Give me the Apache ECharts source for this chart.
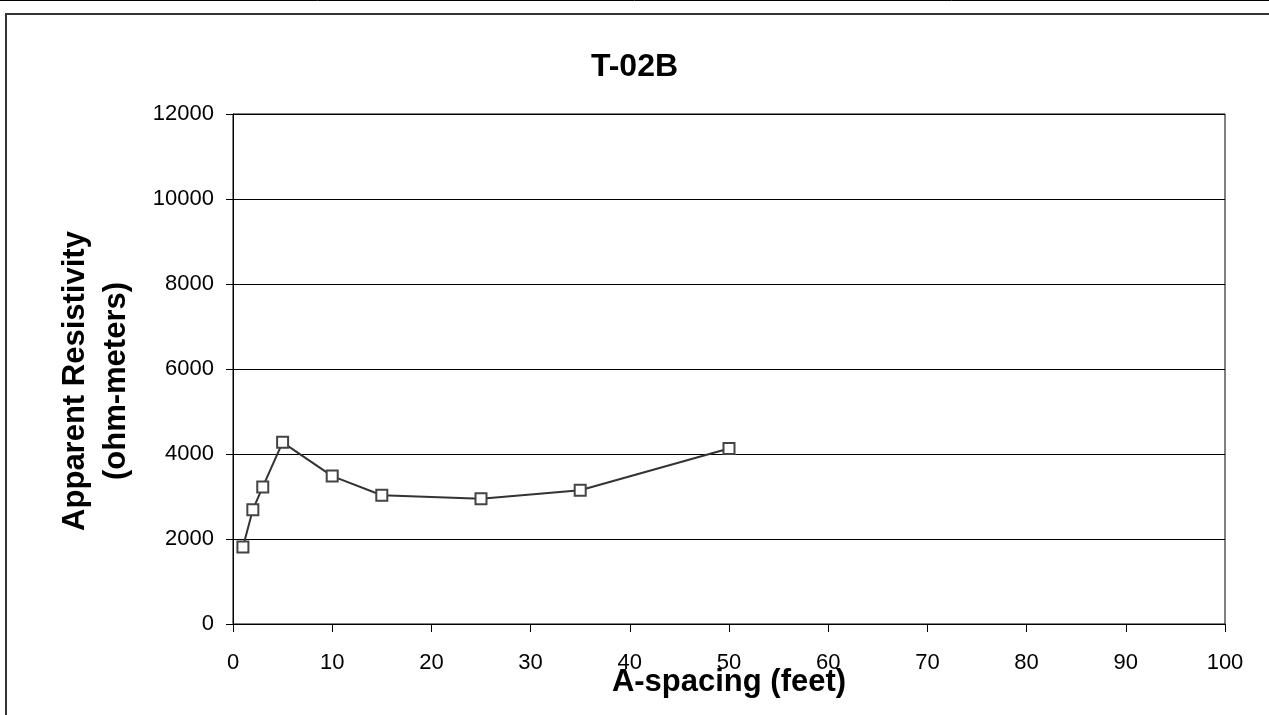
<!DOCTYPE html>
<html>
<head>
<meta charset="utf-8">
<script src="https://cdn.jsdelivr.net/npm/echarts@6/dist/echarts.min.js"></script>
<style>
html,body{margin:0;padding:0;background:#fff;}
#chart{width:1269px;height:715px;}
</style>
</head>
<body>
<div id="chart"></div>
<script>
const titleText = "T-02B";
const xAxisName = "A-spacing (feet)";
const yAxisName = "Apparent Resistivity\n(ohm-meters)";
const aSpacing = [1, 2, 3, 5, 10, 15, 25, 35, 50];
const resistivity = [1810, 2690, 3225, 4275, 3480, 3030, 2945, 3145, 4130];

const chart = echarts.init(document.getElementById('chart'));
const FONT = '"Liberation Sans", Arial, sans-serif';
chart.setOption({
  animation: false,
  backgroundColor: '#fff',
  title: {
    text: titleText,
    left: 'center',
    top: 46,
    textStyle: { fontFamily: FONT, fontWeight: 'bold', fontSize: 32, color: '#000' }
  },
  grid: {
    left: 233, right: 44, top: 114, bottom: 91,
    show: true, borderColor: '#000', borderWidth: 1, backgroundColor: 'transparent'
  },
  xAxis: {
    type: 'value', min: 0, max: 100, interval: 10,
    axisLine: { lineStyle: { color: '#000', width: 1 } },
    axisTick: { show: true, inside: false, length: 8, lineStyle: { color: '#000' } },
    axisLabel: { fontFamily: FONT, fontSize: 22, color: '#000', margin: 28 },
    splitLine: { show: false }
  },
  yAxis: {
    type: 'value', min: 0, max: 12000, interval: 2000,
    axisLine: { show: true, lineStyle: { color: '#000', width: 1 } },
    axisTick: { show: true, inside: false, length: 7, lineStyle: { color: '#000' } },
    axisLabel: { fontFamily: FONT, fontSize: 22, color: '#000', margin: 19, formatter: v => String(v) },
    splitLine: { show: true, lineStyle: { color: '#000', width: 1 } }
  },
  graphic: [
    { type: 'line', shape: { x1: 0, y1: 0.5, x2: 1269, y2: 0.5 }, style: { stroke: '#000', lineWidth: 1 } },
    { type: 'rect', shape: { x: 6, y: 14, width: 1400, height: 900 }, style: { fill: 'none', stroke: '#333', lineWidth: 2 } },
    { type: 'text', x: 96, y: 381, rotation: Math.PI / 2,
      style: { text: yAxisName, align: 'center', verticalAlign: 'middle', lineHeight: 41,
               font: 'bold 31px "Liberation Sans", Arial, sans-serif', fill: '#000' } },
    { type: 'text', x: 729, y: 682, z: 10,
      style: { text: xAxisName, align: 'center', verticalAlign: 'middle',
               font: 'bold 31px "Liberation Sans", Arial, sans-serif', fill: '#000' } }
  ],
  series: [{
    type: 'line',
    data: aSpacing.map((x, i) => [x, resistivity[i]]),
    symbol: 'rect', symbolSize: 11,
    lineStyle: { color: '#333', width: 2 },
    itemStyle: { color: '#fff', borderColor: '#444', borderWidth: 2 },
    z: 5
  }]
});
</script>
</body>
</html>
